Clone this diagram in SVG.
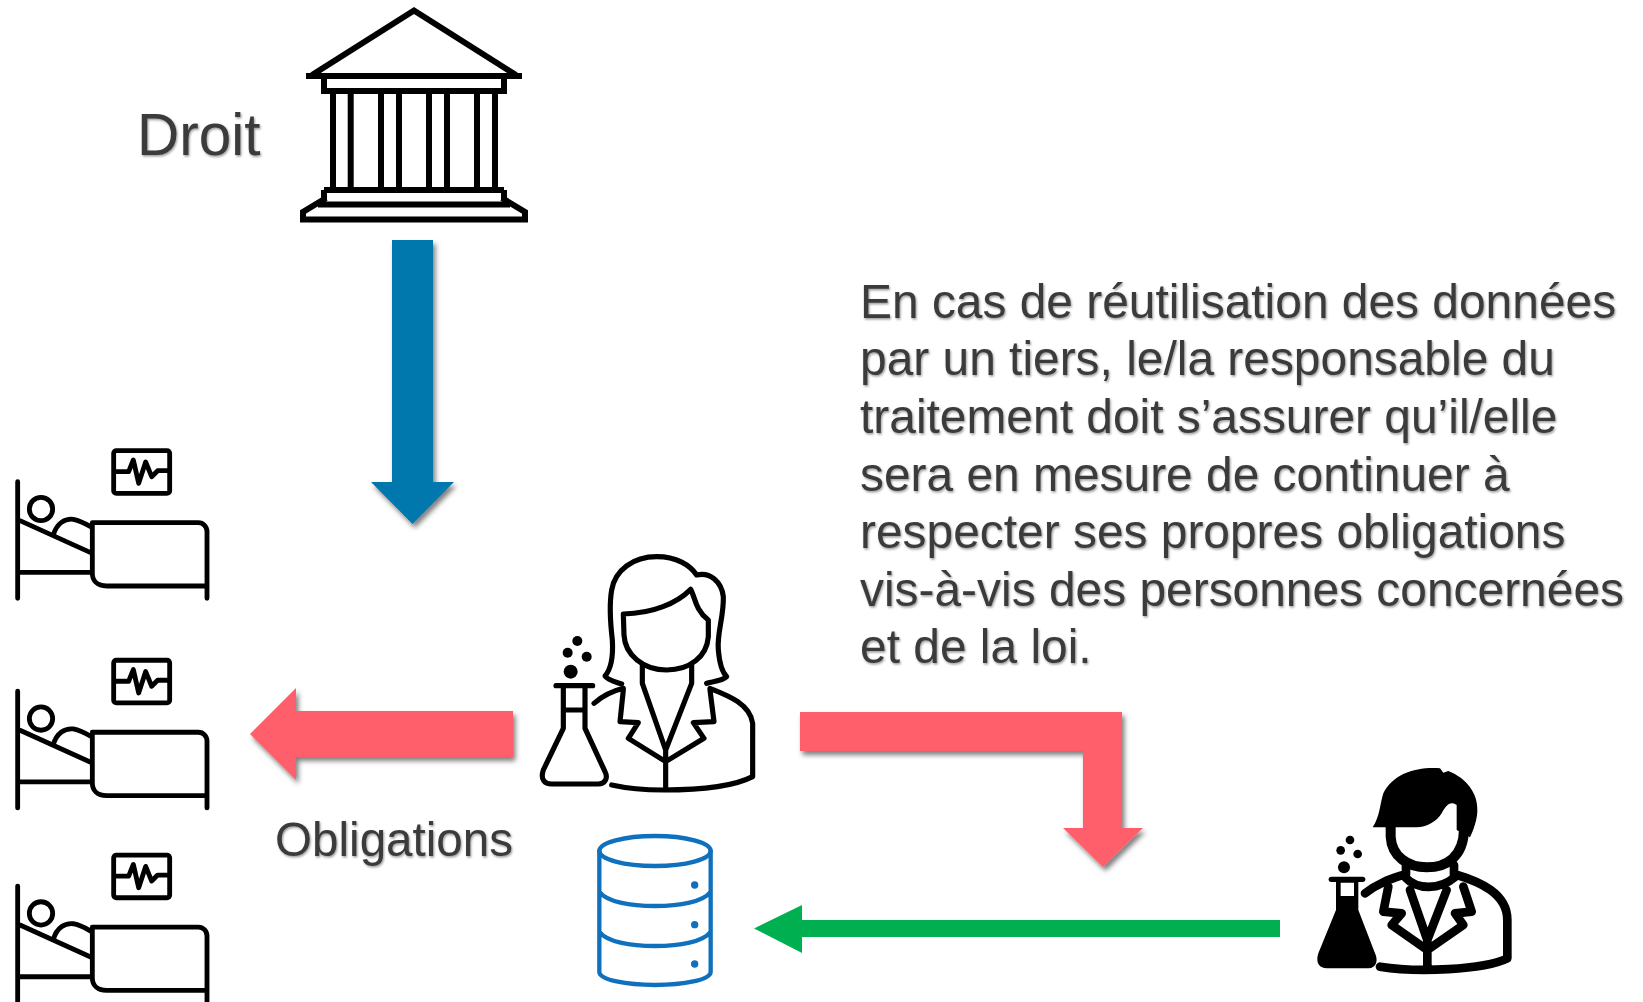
<svg xmlns="http://www.w3.org/2000/svg" xmlns:xlink="http://www.w3.org/1999/xlink" width="1643" height="1002" viewBox="0 0 1643 1002">
<style>
text{font-family:"Liberation Sans",Arial,sans-serif;fill:#3a3a3a;font-size:47.900px;filter:url(#ts)}
.k{fill:none;stroke:#000;stroke-linecap:round;stroke-linejoin:round}
.b{stroke-width:14.500}
.w{stroke-width:15.500}
.m{stroke-width:26}
.f{fill:#000;stroke:none}
.db{fill:none;stroke:#0f71bd;stroke-width:13;stroke-linecap:round;stroke-linejoin:round}
</style>
<defs>
<filter id="ts" x="-5%" y="-20%" width="110%" height="140%"><feDropShadow dx="1" dy="1.500" stdDeviation="1" flood-color="#000" flood-opacity=".4"/></filter>
<filter id="as" x="-20%" y="-20%" width="140%" height="140%"><feDropShadow dx="2.500" dy="4" stdDeviation="2.500" flood-color="#000" flood-opacity=".5"/></filter>
<g id="bed">
<path class="k b" d="M53 155V505M621 505V468H320C290 468 277 450 277 430V278H595C610 278 621 290 621 305V468M60 272L272 368M60 427H272M160 315C170 280 195 265 220 268C240 272 255 280 272 290"/>
<circle class="k b" cx="123" cy="237" r="35"/>
<rect class="k b" x="341" y="62" width="168" height="128" rx="8"/>
<path class="k b" d="M345 125H386L400 90L416 160L437 96L455 140L473 122H505"/>
</g>
</defs>
<rect width="1643" height="1002" fill="#fff"/>
<g id="connectors">
<path id="arrow-law" fill="#0077ad" filter="url(#as)" d="M392 240H433V482H454L412.500 524L371 482H392Z"/>
<path id="arrow-obligations" fill="#fe5f6b" filter="url(#as)" d="M513 711V757H296V780L250 734L296 688V711Z"/>
<path id="arrow-third" fill="#fe5f6b" filter="url(#as)" d="M800 712H1122V828H1143L1103 867L1063 828H1083V751H800Z"/>
<path id="arrow-data" fill="#00b050" d="M1280 920V937H802V953L754 928.500L802 905V920Z"/>
</g>
<g id="law" fill="none" stroke="#000" stroke-width="6">
<path d="M312 75L414 10.500L516 75" stroke-linejoin="miter"/>
<path d="M306 76H522M324 76V91H504V76M333 91V190M350.700 91V190M381 91V190M399 91V190M429 91V190M447 91V190M477 91V190M495 91V190M324 190H504M324 190V200M504 190V200M318 204.500H510M326 198L303 212V219.500H525V212L502 198"/>
</g>
<text id="droit-label" x="137" y="154.500" style="font-size:58.500px">Droit</text>
<g id="patient-1" transform="translate(0 430) scale(.33333)"><use href="#bed"/></g>
<g id="patient-2" transform="translate(0 639.600) scale(.33333)"><use href="#bed"/></g>
<g id="patient-3" transform="translate(0 834.400) scale(.33333)"><use href="#bed"/></g>
<g id="researcher" transform="translate(520 540) scale(.33333)">
<path class="k w" d="M305 432C285 425 262 420 255 408C275 385 280 350 277 300C270 240 268 190 275 150C285 90 340 50 410 50C470 50 510 75 530 105C570 95 605 125 610 170C612 230 590 280 595 330C598 365 605 395 620 410C605 425 570 425 560 430"/>
<path class="k w" d="M310 222C400 220 470 190 512 148C525 170 525 210 565 240V290C560 350 510 390 440 390C370 390 315 345 312 285Z"/>
<path class="k w" d="M367 375V430L437 630L515 430V375M310 450L300 545L355 548L325 595L437 665L552 595L520 548L582 545L570 450M437 630V745M222 490C245 470 270 455 310 445M570 445C620 465 690 490 698 550V710C640 740 540 750 430 750C370 750 320 745 275 735"/>
<path class="k w" d="M108 437H218M130 437V565L70 690C60 720 75 732 95 732H235C255 732 265 715 255 695L195 565V437M130 510H195"/>
<circle class="f" cx="172" cy="303" r="15"/><circle class="f" cx="143" cy="338" r="15"/><circle class="f" cx="200" cy="350" r="15"/><circle class="f" cx="152" cy="395" r="21"/>
</g>
<g id="database" transform="translate(580 820) scale(.33333)">
<ellipse class="db" cx="225" cy="93" rx="167" ry="45"/>
<path class="db" d="M58 93V455C58 480 140 495 225 495C310 495 392 480 392 455V93M58 215C80 245 150 258 225 258C300 258 370 245 392 215M58 335C80 365 150 378 225 378C300 378 370 365 392 335"/>
<circle cx="344" cy="195" r="11" fill="#0f71bd"/><circle cx="344" cy="314" r="11" fill="#0f71bd"/><circle cx="344" cy="432" r="11" fill="#0f71bd"/>
</g>
<g id="third-party" transform="translate(1300 750) scale(.33333)">
<path class="f" d="M218 232C240 200 240 160 250 130C280 70 350 50 420 55L430 68L445 63C500 85 535 130 532 185C530 215 520 240 510 262L470 240V165C450 150 435 170 425 190C410 215 380 232 350 232Z"/>
<path class="k" stroke-width="30" d="M272 225V260C275 320 325 352 380 352C440 352 490 320 492 240"/>
<path class="k m" stroke-linecap="butt" d="M318 345V372C280 385 240 395 195 430M462 345V372C540 395 622 430 622 510V625C550 660 350 668 240 650M316 382C350 420 420 420 464 382M330 420L382 570L440 420M265 410L250 485L305 490L275 525L382 600L490 525L465 490L515 485L490 410M382 570V650"/>
<path class="f" fill-rule="evenodd" d="M108 395V480L55 610C45 640 60 655 80 655H205C230 655 235 630 225 610L175 480V395ZM122 398H162V438H122Z"/>
<path class="k" stroke-width="16" d="M94 388H188"/>
<circle class="f" cx="150" cy="270" r="13"/><circle class="f" cx="122" cy="301" r="13"/><circle class="f" cx="173" cy="312" r="13"/><circle class="f" cx="132" cy="352" r="18"/>
</g>
<text id="obligations-label" x="275" y="855.500" style="font-size:47.600px">Obligations</text>
<g id="note">
<text x="860" y="318">En cas de réutilisation des données</text>
<text x="860" y="375">par un tiers, le/la responsable du</text>
<text x="860" y="433">traitement doit s’assurer qu’il/elle</text>
<text x="860" y="491">sera en mesure de continuer à</text>
<text x="860" y="548">respecter ses propres obligations</text>
<text x="860" y="606">vis-à-vis des personnes concernées</text>
<text x="860" y="663">et de la loi.</text>
</g>
</svg>
